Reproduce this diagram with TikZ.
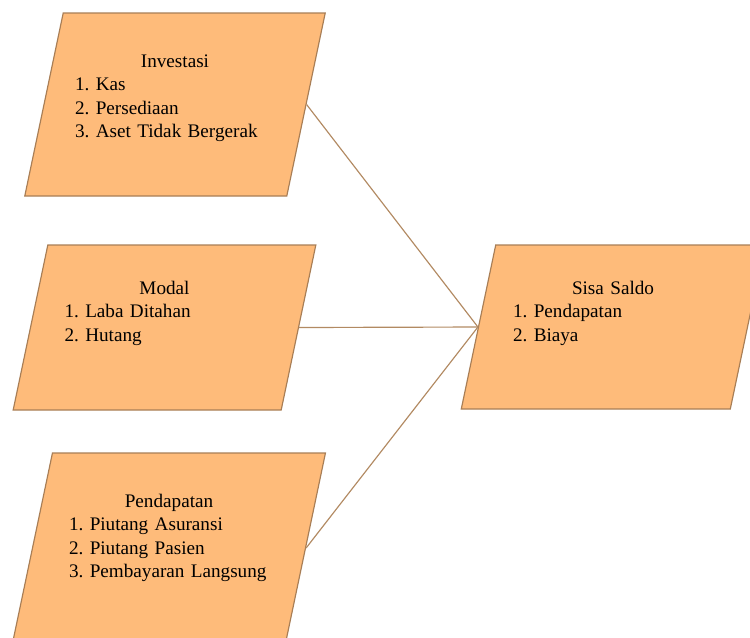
\documentclass[tikz,border=0pt]{standalone}
\usepackage{fontspec}
\setmainfont{Liberation Serif}
\usetikzlibrary{calc}
\definecolor{boxfill}{RGB}{254,187,122}
\definecolor{boxline}{RGB}{168,126,86}
\definecolor{linkline}{RGB}{178,138,98}
\frenchspacing
\hyphenpenalty=10000

\begin{document}
\begin{tikzpicture}[x=0.6pt, y=-0.6pt,
	box/.style={rectangle, xslant=0.21, transform shape, draw=boxline, fill=boxfill, line width=0.7pt, inner sep=0pt},
	boxtext/.style={anchor=north, text width=120pt, align=left, inner sep=0pt, font=\fontsize{11.5}{14.1}\selectfont},
	link/.style={draw=linkline, line width=0.7pt}]
	\path[use as bounding box, clip] (0,0) rectangle (750,637);

	\node[box, minimum width=157.2pt, minimum height=109.8pt] (inv) at (175,104.5) {};
	\node[box, minimum width=160.8pt, minimum height=99pt] (modal) at (164.5,327.5) {};
	\node[box, minimum width=163.8pt, minimum height=114pt] (pend) at (169,548) {};
	\node[box, minimum width=161.4pt, minimum height=98.4pt] (saldo) at (613,327) {};

	\node[boxtext] (invtxt) at ($(inv.center |- inv.north)+(0,42)$)
		{\makebox[120pt]{Investasi}\\ 1. Kas\\ 2. Persediaan\\ 3. Aset Tidak Bergerak};
	\node[boxtext] (modaltxt) at ($(modal.center |- modal.north)+(0,36)$)
		{\makebox[120pt]{Modal}\\ 1. Laba Ditahan\\ 2. Hutang};
	\node[boxtext] (pendtxt) at ($(pend.center |- pend.north)+(0,41)$)
		{\makebox[120pt]{Pendapatan}\\ 1. Piutang Asuransi\\ 2. Piutang Pasien\\ 3. Pembayaran Langsung};
	\node[boxtext] (saldotxt) at ($(saldo.center |- saldo.north)+(0,36)$)
		{\makebox[120pt]{Sisa Saldo}\\ 1. Pendapatan\\ 2. Biaya};

	\draw[link] (inv.east) -- (saldo.west);
	\draw[link] (modal.east) -- (saldo.west);
	\draw[link] (pend.east) -- (saldo.west);
\end{tikzpicture}
\end{document}
